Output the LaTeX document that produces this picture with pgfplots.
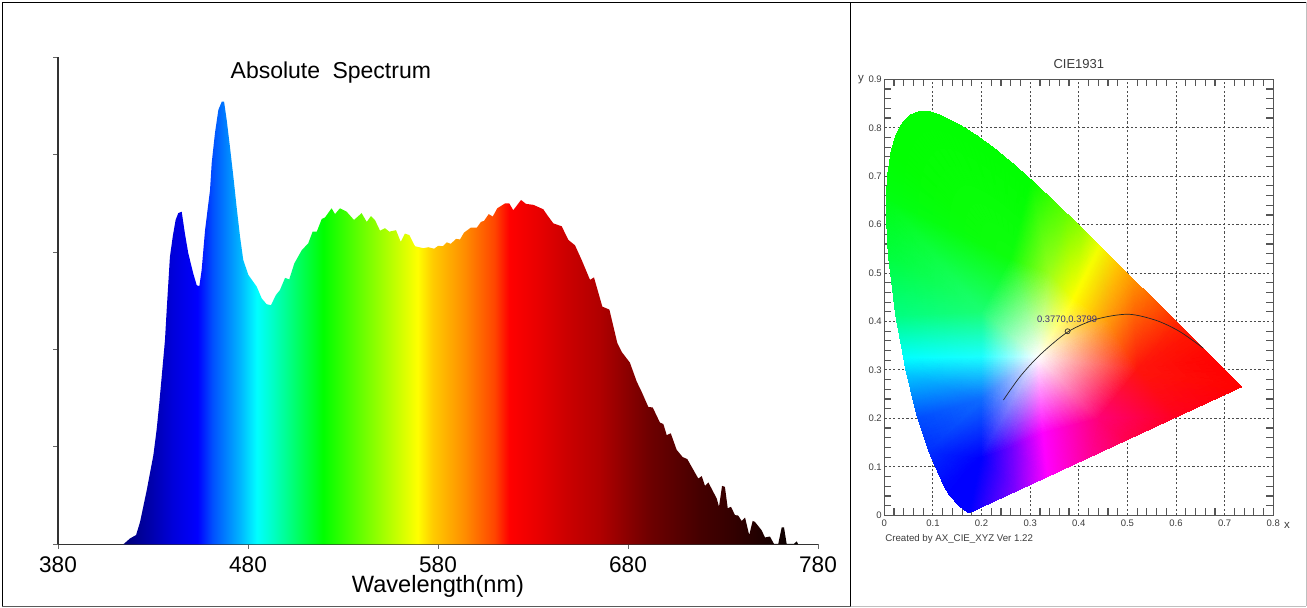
\documentclass[border=0pt]{standalone}
\usepackage{fontspec}
\setmainfont{Liberation Sans}
\usepackage{pgfplots}
\usepackage{pgfplotstable}
\pgfplotsset{compat=1.18}
\pgfdeclarehorizontalshading{spectrum}{100bp}{
rgb(0bp)=(0,0,.47);
rgb(25bp)=(0,0,.47);
rgb(27bp)=(0,0,.67);
rgb(28.7bp)=(0,0,.86);
rgb(30.5bp)=(0,0,1);
rgb(31.6bp)=(0,.31,1);
rgb(33.6bp)=(0,.7,1);
rgb(34.9bp)=(0,1,1);
rgb(36.2bp)=(0,1,.75);
rgb(38.1bp)=(0,1,.35);
rgb(39.8bp)=(0,1,0);
rgb(43.3bp)=(.5,1,0);
rgb(46.8bp)=(1,1,0);
rgb(47.9bp)=(1,.8,0);
rgb(50.3bp)=(1,.55,0);
rgb(52.5bp)=(1,.27,0);
rgb(53.6bp)=(1,0,0);
rgb(55.5bp)=(.92,0,0);
rgb(57.8bp)=(.8,0,0);
rgb(60.3bp)=(.69,0,0);
rgb(62.8bp)=(.51,0,0);
rgb(64bp)=(.43,0,0);
rgb(67.7bp)=(.27,0,0);
rgb(70.2bp)=(.2,0,0);
rgb(73.9bp)=(.06,0,0);
rgb(75bp)=(.02,0,0);
rgb(100bp)=(.02,0,0)}
\pgfplotstableread{
nm val
414.4 0
417.9 1.2
421.1 1.9
423.2 4.6
426.7 11.1
430.2 18.3
431.9 23.5
433.3 28.9
436.3 41.9
437.2 48.1
438.9 59.0
440.4 63.2
441.9 66.6
443.3 68.0
445.1 68.3
446.8 63.8
448.6 59.7
451.2 55.6
453.0 53.2
454.4 53.0
455.6 56.3
457.4 64.5
460.0 72.7
460.9 78.3
462.6 84.4
464.4 89.2
466.2 90.9
467.4 90.9
468.8 87.1
470.5 81.6
472.3 75.5
474.0 69.3
475.8 63.2
477.5 58.4
480.2 55.3
484.6 52.9
487.2 50.5
489.8 49.3
492.1 49.1
494.7 51.2
496.8 52.2
499.5 54.7
501.7 54.4
504.4 57.7
508.3 60.4
511.7 61.8
514.0 64.2
516.2 64.2
518.8 66.8
520.5 67.1
524.0 69.0
525.8 67.8
528.4 69.0
531.9 68.3
535.8 66.6
539.8 68.0
542.5 66.2
544.7 67.4
546.8 66.6
549.5 64.4
552.1 64.9
554.4 64.2
557.9 64.5
560.4 62.1
562.6 63.8
564.9 63.5
567.9 61.2
572.3 60.8
574.9 61.0
578.0 60.7
580.1 61.3
582.5 61.2
584.6 62.0
586.7 61.7
589.5 62.7
591.6 62.6
593.7 64.0
597.2 65.0
600.4 65.0
602.6 66.2
604.2 66.4
606.7 67.8
608.8 67.3
611.2 69.0
615.3 70.0
617.5 70.0
619.6 68.6
623.7 70.7
626.3 69.9
630.2 69.7
635.4 68.8
637.5 67.6
640.7 65.9
645.1 65.3
648.6 62.5
652.1 61.4
655.6 58.4
660.0 54.3
662.1 54.8
666.5 48.8
670.2 48.2
674.4 41.3
676.7 39.5
681.0 37.3
684.6 33.4
687.2 31.3
690.7 28.2
693.0 28.1
696.8 25.0
698.6 24.7
700.4 22.4
702.5 22.8
705.6 19.4
708.8 17.9
711.2 17.5
717.0 13.5
718.8 14.0
720.5 12.0
722.3 12.7
726.7 9.4
727.9 7.7
729.5 12.0
731.0 11.8
732.5 7.4
734.2 7.7
736.3 6.0
738.0 5.9
739.8 4.8
741.6 5.5
743.8 1.9
745.6 4.8
746.8 4.6
750.3 2.9
752.1 1.4
754.7 1.6
756.8 0.1
759.1 0.1
760.9 3.5
762.1 3.5
763.5 0.1
767.4 0.1
768.8 0.6
769.6 0
}\spectrumdata
\pgfplotstableread{
x y c
0.316 0.327 1,1,1
0.52 0.30 1,.08,.05
0.46 0.40 1,.6,.05
0.39 0.447 1,1,0
0.34 0.50 .6,1,.1
0.26 0.53 .05,1,.05
0.20 0.42 .1,1,.45
0.20 0.327 .1,1,1
0.20 0.24 .05,.42,1
0.20 0.12 0,0,1
0.26 0.14 .42,0,1
0.326 0.17 1,0,1
0.44 0.20 1,0,.47
0.1741 0.005 0,0,1
0.1566 0.0177 0,0,1
0.1241 0.0578 0,.02,1
0.0913 0.1327 0,.18,1
0.0687 0.2007 0,.3,1
0.0454 0.2950 0,.8,1
0.0398 0.325 0,1,1
0.0235 0.4127 0,1,.5
0.0082 0.5384 0,1,.23
0.0039 0.6548 0,1,.07
0.0139 0.7502 0,1,0
0.0389 0.8120 0,1,0
0.0743 0.8338 0,1,0
0.1142 0.8262 0,1,0
0.1547 0.8059 0,1,0
0.1929 0.7816 0,1,0
0.2296 0.7543 0,1,0
0.2658 0.7243 0,1,0
0.3016 0.6923 0,1,0
0.3373 0.6589 .2,1,0
0.3731 0.6245 .38,1,0
0.4087 0.5896 .6,1,0
0.4441 0.5547 .95,1,0
0.4788 0.5202 1,.78,0
0.5125 0.4866 1,.58,0
0.5448 0.4544 1,.42,0
0.5752 0.4242 1,.28,0
0.6029 0.3965 1,.15,0
0.6270 0.3725 1,.08,0
0.6658 0.3340 1,.02,0
0.6915 0.3083 1,0,0
0.7190 0.2809 1,0,0
0.7347 0.2653 1,0,0
0.60 0.2029 1,0,.12
0.50 0.1564 1,0,.3
0.42 0.1192 1,0,.6
0.335 0.0797 1,0,1
0.27 0.0495 .5,0,1
0.0072 0.7040 0,1,.03
0.0235 0.7840 0,1,0
0.0555 0.8270 0,1,0
0.0940 0.8325 0,1,0
0.0051 0.60 0,1,.15
0.1355 0.0399 0,0,1
}\ciemesh
\definecolor{frameg}{RGB}{85,85,85}
\definecolor{cielab}{RGB}{60,50,120}
\definecolor{cietext}{RGB}{60,60,60}
\begin{document}
\begin{tikzpicture}[x=1pt,y=1pt]
\path (0,0) rectangle (1307,607);
\begin{axis}[
  at={(58pt,62.7pt)},anchor=south west,
  scale only axis,width=760pt,height=487pt,
  xmin=380,xmax=780,ymin=0,ymax=100,
  axis x line=bottom,axis y line=left,
  axis line style={-,line width=1.1pt,black!80},
  tick align=outside,tick style={line width=0.8pt,black!60},
  major tick length=4.5pt,
  xtick={380,480,580,680,780},
  xticklabels={380,480,580,680,780},
  ytick={0,20,40,60,80,100},yticklabels={},
  x tick label style={font=\fontsize{22.6}{23}\selectfont,yshift=-4pt},
  xlabel={Wavelength(nm)},
  xlabel style={font=\fontsize{23.6}{24}\selectfont,at={(axis description cs:0.5,0)},anchor=base,yshift=-48.7pt},
  every axis title shift=0pt,
  title={Absolute\hspace{6pt} Spectrum},
  title style={font=\fontsize{23}{23}\selectfont,at={(axis description cs:0.359,0.957)},anchor=base},
  clip=false]
\addplot[draw=none,shade,shading=spectrum] table[x=nm,y=val]{\spectrumdata} \closedcycle;
\end{axis}
\begin{axis}[
  at={(884.3pt,91.7pt)},anchor=south west,
  scale only axis,width=389pt,height=436pt,
  xmin=0,xmax=0.8,ymin=0,ymax=0.9,
  xtick={0,0.1,0.2,0.3,0.4,0.5,0.6,0.7,0.8},
  xticklabels={0,0.1,0.2,0.3,0.4,0.5,0.6,0.7,0.8},
  ytick={0,0.1,0.2,0.3,0.4,0.5,0.6,0.7,0.8,0.9},
  yticklabels={0,0.1,0.2,0.3,0.4,0.5,0.6,0.7,0.8,0.9},
  minor x tick num=4,minor y tick num=4,
  tick align=inside,
  major tick length=0pt,minor tick length=7pt,
  minor tick style={line width=1.2pt,frameg},
  axis line style={line width=1.5pt,frameg},
  grid=major,
  major grid style={line width=1pt,black!70,dash pattern=on 2.2pt off 2.2pt},
  tick label style={font=\fontsize{9.5}{10}\selectfont,text=cietext},
  x tick label style={yshift=-1pt},
  y tick label style={xshift=1pt},
  title={CIE1931},
  title style={font=\fontsize{13}{13}\selectfont,text=cietext,yshift=1pt},
  xlabel={x},
  xlabel style={font=\fontsize{11.5}{12}\selectfont,text=cietext,at={(axis description cs:1.035,-0.03)},anchor=base},
  ylabel={y},
  ylabel style={font=\fontsize{11.5}{12}\selectfont,text=cietext,rotate=-90,at={(axis description cs:-0.06,1.0)},anchor=center},
  clip=false]
\addplot[patch,patch type=triangle,shader=interp,mesh/color input=explicit,
  table/row sep=\\,
  patch table={
0 1 2\\
0 2 3\\
0 3 4\\
0 4 5\\
0 5 6\\
0 6 7\\
0 7 8\\
0 8 9\\
0 9 10\\
0 10 11\\
0 11 12\\
0 12 1\\
9 13 14\\
9 14 56\\
9 56 15\\
9 15 16\\
8 9 16\\
8 16 17\\
8 17 18\\
8 18 19\\
7 8 19\\
7 19 20\\
6 7 20\\
6 20 21\\
6 21 55\\
6 55 22\\
5 6 22\\
5 22 51\\
5 51 23\\
5 23 52\\
5 52 24\\
5 24 53\\
5 53 25\\
5 25 54\\
5 54 26\\
5 26 27\\
5 27 28\\
5 28 29\\
5 29 30\\
5 30 31\\
4 5 31\\
4 31 32\\
4 32 33\\
3 4 33\\
3 33 34\\
3 34 35\\
2 3 35\\
2 35 36\\
2 36 37\\
1 2 37\\
1 37 38\\
1 38 39\\
1 39 40\\
1 40 41\\
1 41 42\\
1 42 43\\
1 43 44\\
1 44 45\\
1 45 46\\
1 46 12\\
12 46 47\\
12 47 48\\
11 12 48\\
11 48 49\\
10 11 49\\
10 49 50\\
9 10 50\\
9 50 13\\
}] table[x=x,y=y,meta=c]{\ciemesh};
\addplot[smooth,line width=0.7pt,black!85] coordinates {
(.245,.238)(.279,.286)(.320,.331)(.378,.379)(.437,.405)(.502,.415)(.560,.402)(.608,.379)(.656,.345)};
\addplot[only marks,mark=o,mark size=2.5pt,mark options={line width=0.7pt,draw=black!80}] coordinates {(0.3770,0.3799)}
  node[pos=0,anchor=base,yshift=9pt,xshift=-0.5pt,font=\fontsize{9.4}{10}\selectfont,text=cielab,inner sep=0pt] {0.3770,0.3799};
\node[anchor=base west,font=\fontsize{9.7}{10}\selectfont,text=cietext,inner sep=0pt] at (axis description cs:0.002,-0.059) {Created by AX\_CIE\_XYZ Ver 1.22};
\end{axis}
\draw[line width=1.5pt,black] (1.8,604.5) -- (1306,604.5);
\draw[line width=1.5pt,black] (2.5,0.7) -- (2.5,605.2);
\draw[line width=1.3pt,black] (850.8,0.7) -- (850.8,604.5);
\draw[line width=1pt,black!25] (1306.3,0.7) -- (1306.3,604.5);
\draw[line width=1.2pt,black!65] (1.8,0.8) -- (851,0.8);
\draw[line width=1pt,black!25] (851,0.6) -- (1306.3,0.6);
\end{tikzpicture}
\end{document}
